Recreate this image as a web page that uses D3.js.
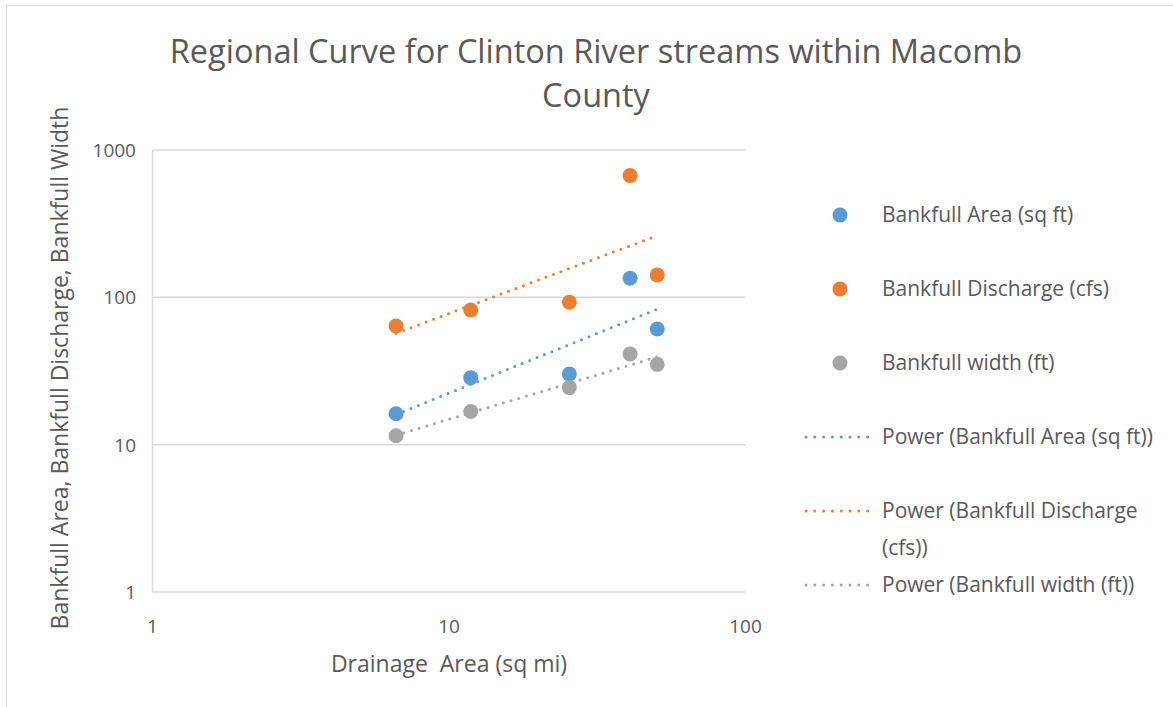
<!DOCTYPE html>
<html>
<head>
<meta charset="utf-8">
<script src="https://cdn.jsdelivr.net/npm/d3@7"></script>
<style>
  body { margin: 0; background: #fff; }
  text { font-family: "Open Sans", "Liberation Sans", sans-serif; fill: #595959; }
</style>
</head>
<body>
<div id="chart"></div>
<script>
// data
var drainageArea = [6.63, 11.84, 25.46, 40.8, 50.4];
var bankfullArea = [16.2, 28.5, 30.2, 134.8, 61];
var bankfullDischarge = [63.9, 82.1, 92.7, 670, 142];
var bankfullWidth = [11.5, 16.8, 24.4, 41.3, 35.1];
var seriesNames = ["Bankfull Area (sq ft)", "Bankfull Discharge (cfs)", "Bankfull width (ft)"];
var trendNames = ["Power (Bankfull Area (sq ft))", ["Power (Bankfull Discharge", "(cfs))"], "Power (Bankfull width (ft))"];
var colors = ["#5B9BD5", "#ED7D31", "#A5A5A5"];
var xTicks = [1, 10, 100];
var yTicks = [1, 10, 100, 1000];

var width = 1173, height = 707;
var plot = {left: 152.5, right: 745.5, top: 150, bottom: 592};

var svg = d3.select("#chart").append("svg")
    .attr("width", width)
    .attr("height", height);

// chart border
svg.append("rect")
    .attr("x", 6.5).attr("y", 5.5)
    .attr("width", 1200).attr("height", 800)
    .style("fill", "#fff")
    .style("stroke", "#D9D9D9")
    .style("stroke-width", 1);

var x = d3.scaleLog().domain([1, 100]).range([plot.left, plot.right]);
var y = d3.scaleLog().domain([1, 1000]).range([plot.bottom, plot.top]);

// gridlines
svg.append("g").selectAll("line")
    .data(yTicks)
  .enter().append("line")
    .attr("x1", plot.left).attr("x2", plot.right)
    .attr("y1", function(d) { return y(d); })
    .attr("y2", function(d) { return y(d); })
    .style("stroke", "#D9D9D9")
    .style("stroke-width", 1.5);

// vertical axis line
svg.append("line")
    .attr("x1", plot.left).attr("x2", plot.left)
    .attr("y1", plot.top).attr("y2", plot.bottom)
    .style("stroke", "#D9D9D9")
    .style("stroke-width", 1.5);

// tick labels
svg.append("g").selectAll("text")
    .data(yTicks)
  .enter().append("text")
    .attr("x", 136)
    .attr("y", function(d) { return y(d) + 7; })
    .attr("text-anchor", "end")
    .style("font-size", "19px")
    .text(function(d) { return d; });

svg.append("g").selectAll("text")
    .data(xTicks)
  .enter().append("text")
    .attr("x", function(d) { return x(d); })
    .attr("y", 633)
    .attr("text-anchor", "middle")
    .style("font-size", "19px")
    .text(function(d) { return d; });

// titles
var title = svg.append("text")
    .attr("x", 596)
    .attr("text-anchor", "middle")
    .style("font-size", "32.5px");
title.append("tspan").attr("x", 596).attr("y", 63)
    .text("Regional Curve for Clinton River streams within Macomb");
title.append("tspan").attr("x", 596).attr("y", 107)
    .text("County");

svg.append("text")
    .attr("x", 449)
    .attr("y", 672)
    .attr("text-anchor", "middle")
    .style("font-size", "23px")
    .attr("xml:space", "preserve")
    .text("Drainage  Area (sq mi)");

svg.append("text")
    .attr("transform", "translate(68,368) rotate(-90)")
    .attr("text-anchor", "middle")
    .style("font-size", "23px")
    .text("Bankfull Area, Bankfull Discharge, Bankfull Width");

// power trendline (least squares in log-log space)
function powerFit(xs, ys) {
  var lx = xs.map(Math.log), ly = ys.map(Math.log);
  var mx = d3.mean(lx), my = d3.mean(ly);
  var b = d3.sum(lx, function(v, i) { return (v - mx) * (ly[i] - my); }) /
          d3.sum(lx, function(v) { return (v - mx) * (v - mx); });
  var a = Math.exp(my - b * mx);
  return function(v) { return a * Math.pow(v, b); };
}

var allSeries = [bankfullArea, bankfullDischarge, bankfullWidth];

var line = d3.line()
    .x(function(d) { return x(d[0]); })
    .y(function(d) { return y(d[1]); });

// points
allSeries.forEach(function(vals, i) {
  svg.append("g").selectAll("circle")
      .data(vals)
    .enter().append("circle")
      .attr("cx", function(d, j) { return x(drainageArea[j]); })
      .attr("cy", function(d) { return y(d); })
      .attr("r", 7.5)
      .style("fill", colors[i]);
});

// trendlines on top
allSeries.forEach(function(vals, i) {
  var f = powerFit(drainageArea, vals);
  var x0 = d3.min(drainageArea), x1 = d3.max(drainageArea);
  svg.append("path")
      .datum([[x0, f(x0)], [x1, f(x1)]])
      .attr("d", line)
      .style("fill", "none")
      .style("stroke", colors[i])
      .style("stroke-width", 3)
      .style("stroke-linecap", "round")
      .style("stroke-dasharray", "0,8");
});

// legend
var legendY = [215, 289, 363];
var trendY = [437, 511, 585];

seriesNames.forEach(function(name, i) {
  svg.append("circle")
      .attr("cx", 840).attr("cy", legendY[i])
      .attr("r", 7.5)
      .style("fill", colors[i]);
  svg.append("text")
      .attr("x", 882).attr("y", legendY[i] + 7)
      .style("font-size", "21px")
      .text(name);
});

trendNames.forEach(function(name, i) {
  svg.append("line")
      .attr("x1", 806).attr("x2", 868)
      .attr("y1", trendY[i]).attr("y2", trendY[i])
      .style("stroke", colors[i])
      .style("stroke-width", 3)
      .style("stroke-linecap", "round")
      .style("stroke-dasharray", "0,8.8");
  var t = svg.append("text")
      .attr("x", 882).attr("y", trendY[i] + 7)
      .style("font-size", "21px");
  var lines = Array.isArray(name) ? name : [name];
  lines.forEach(function(s, k) {
    t.append("tspan").attr("x", 882).attr("y", trendY[i] + 7 + k * 37).text(s);
  });
});
</script>
</body>
</html>
